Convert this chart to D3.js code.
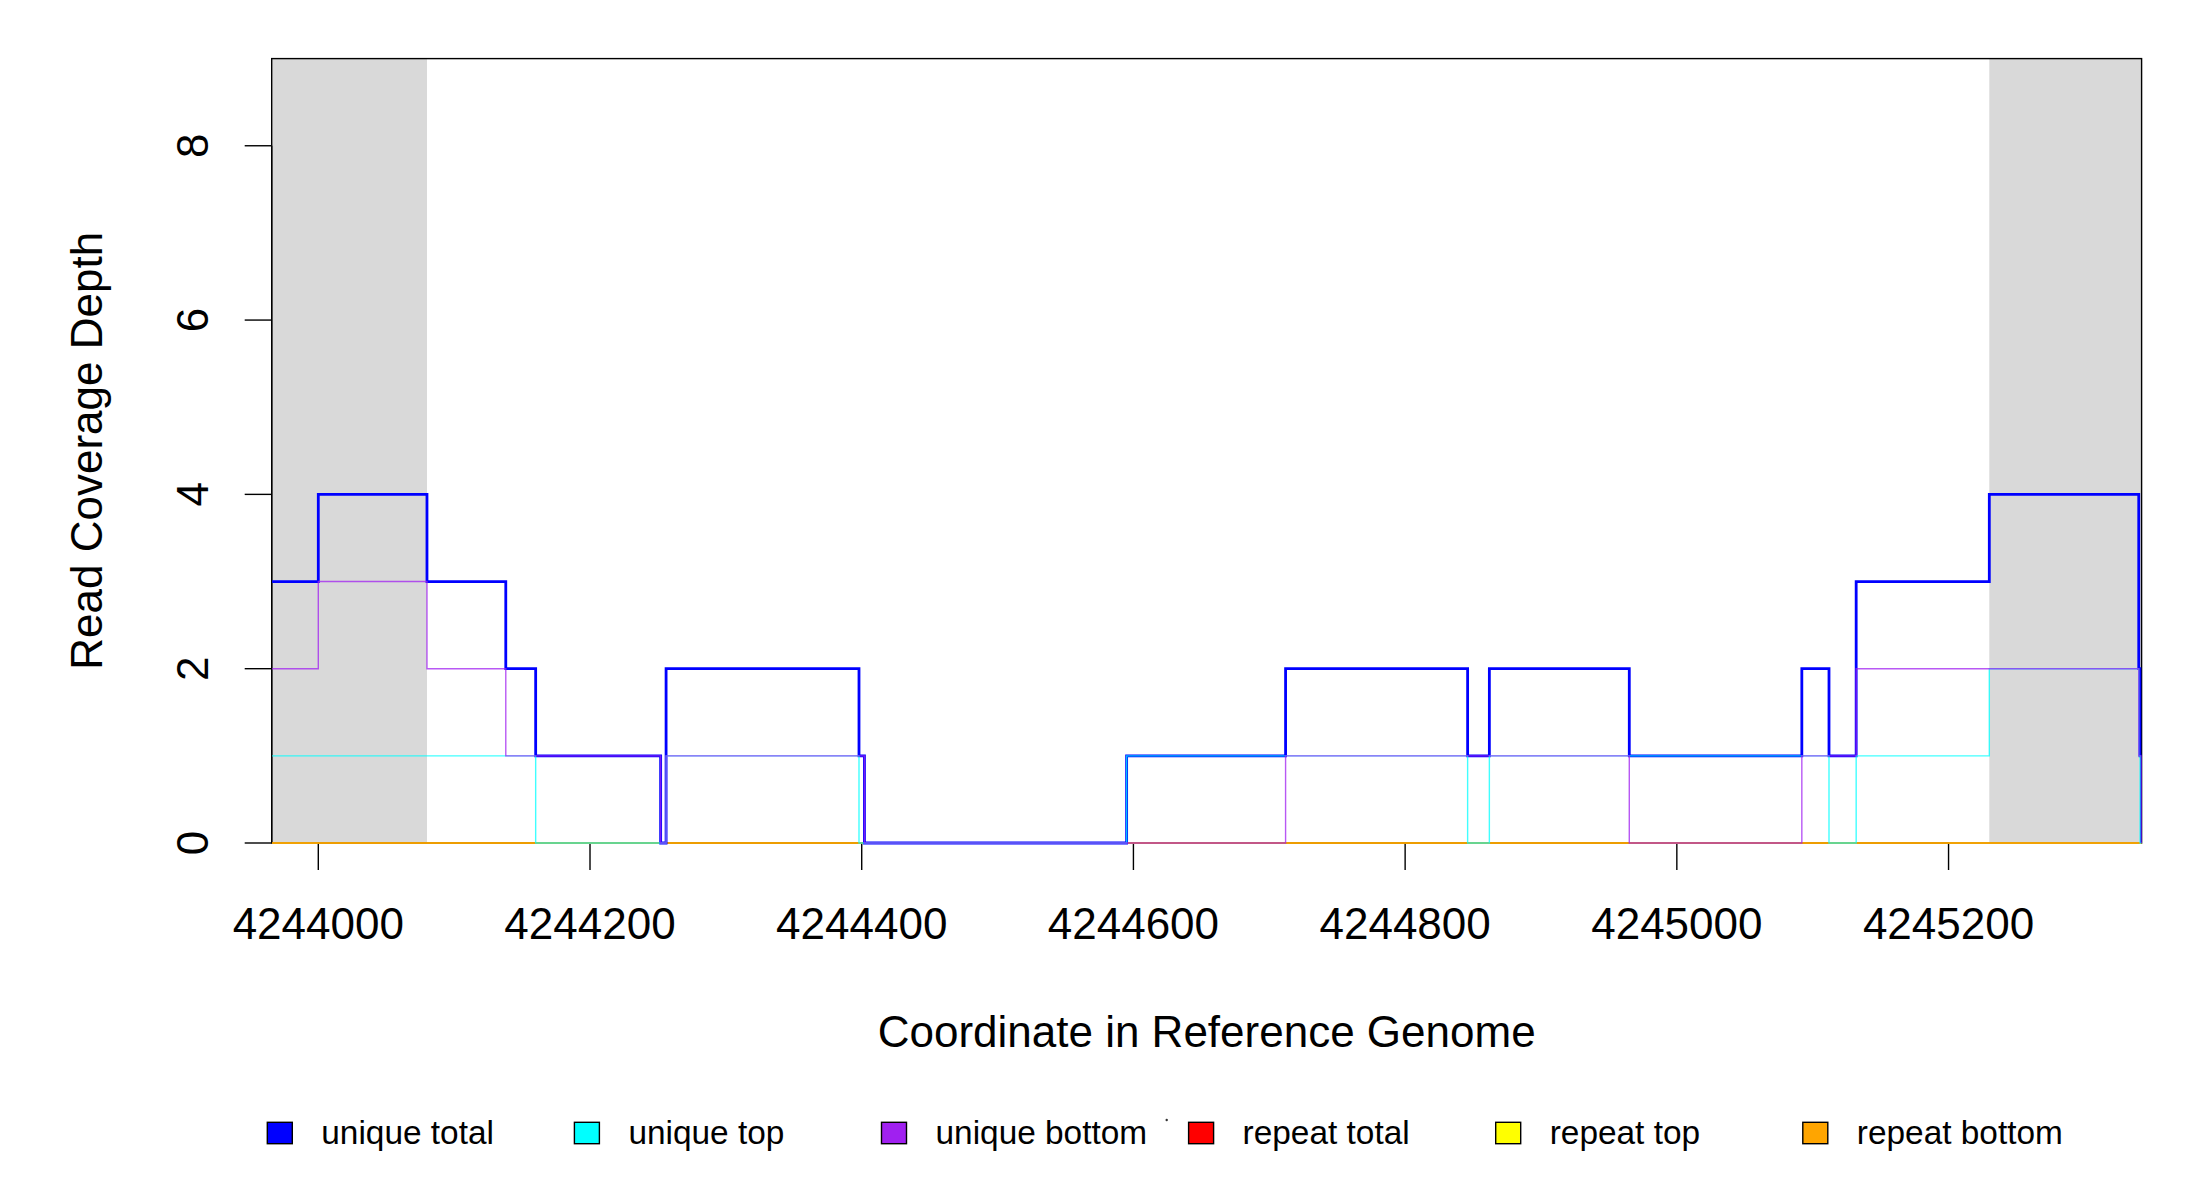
<!DOCTYPE html>
<html>
<head>
<meta charset="utf-8">
<script src="https://cdn.jsdelivr.net/npm/d3@7"></script>
<style>
  html, body { margin: 0; padding: 0; background: #fff; }
  text { font-family: "Liberation Sans", Arial, Helvetica, sans-serif; fill: #000; }
</style>
</head>
<body>
<div id="chart"></div>
<script>
// coverage steps: value holds from position[i] until position[i + 1]
const positions = [4243966, 4244000, 4244080, 4244138, 4244160, 4244252, 4244256, 4244398, 4244402, 4244595,
  4244712, 4244846, 4244862, 4244965, 4245092, 4245112, 4245132, 4245230, 4245340, 4245341, 4245342]
const uniqueTotal = [3, 4, 3, 2, 1, 0, 2, 1, 0, 1, 2, 1, 2, 1, 2, 1, 3, 4, 2, 1, 0]
const uniqueTop = [1, 1, 1, 1, 0, 0, 1, 0, 0, 1, 1, 0, 1, 1, 1, 0, 1, 2, 1, 0, 0]
const uniqueBottom = [2, 3, 2, 1, 1, 0, 1, 1, 0, 0, 1, 1, 1, 0, 1, 1, 2, 2, 1, 1, 0]
const repeatTotal = [0, 0, 0, 0, 0, 0, 0, 0, 0, 0, 0, 0, 0, 0, 0, 0, 0, 0, 0, 0, 0]
const repeatTop = [0, 0, 0, 0, 0, 0, 0, 0, 0, 0, 0, 0, 0, 0, 0, 0, 0, 0, 0, 0, 0]
const repeatBottom = [0, 0, 0, 0, 0, 0, 0, 0, 0, 0, 0, 0, 0, 0, 0, 0, 0, 0, 0, 0, 0]

// shaded flanks outside the region of interest
const flankStarts = [4243966, 4245230]
const flankEnds = [4244080, 4245342]

const xTicks = [4244000, 4244200, 4244400, 4244600, 4244800, 4245000, 4245200]
const yTicks = [0, 2, 4, 6, 8]
const legendLabels = ['unique total', 'unique top', 'unique bottom', 'repeat total', 'repeat top', 'repeat bottom']
const legendColors = ['#0000ff', '#00ffff', '#a020f0', '#ff0000', '#ffff00', '#ffa500']

const width = 2200
const height = 1200
const plot = {left: 271.7, right: 2141.6, top: 58.6, bottom: 843}
const FONT = 44
const LEGEND_FONT = 33.4

const x = d3.scaleLinear().domain([4243965.7, 4245342.1]).range([plot.left, plot.right])
const y = d3.scaleLinear().domain([0, 9]).range([plot.bottom, plot.top])

const svg = d3.select('#chart')
  .append('svg')
  .attr('width', width)
  .attr('height', height)

svg.append('rect').attr('width', width).attr('height', height).attr('fill', '#fff')

svg.append('clipPath').attr('id', 'plotClip')
  .append('rect')
  .attr('x', plot.left).attr('y', plot.top)
  .attr('width', plot.right - plot.left).attr('height', plot.bottom - plot.top + 2)

// gray flanks
svg.selectAll('rect.flank')
  .data(flankStarts)
  .enter()
  .append('rect')
  .classed('flank', true)
  .attr('x', (d, i) => x(d))
  .attr('width', (d, i) => x(flankEnds[i]) - x(d))
  .attr('y', plot.top)
  .attr('height', plot.bottom - plot.top)
  .attr('fill', '#d9d9d9')

// box
svg.append('rect')
  .attr('x', plot.left).attr('y', plot.top)
  .attr('width', plot.right - plot.left).attr('height', plot.bottom - plot.top)
  .attr('fill', 'none').attr('stroke', '#000').attr('stroke-width', 1.4)

// x axis
const xAxis = svg.append('g')
xAxis.append('line')
  .attr('x1', x(xTicks[0])).attr('x2', x(xTicks[xTicks.length - 1]))
  .attr('y1', plot.bottom).attr('y2', plot.bottom)
  .attr('stroke', '#000').attr('stroke-width', 1.4)
xAxis.selectAll('line.tick')
  .data(xTicks)
  .enter()
  .append('line')
  .classed('tick', true)
  .attr('x1', d => x(d)).attr('x2', d => x(d))
  .attr('y1', plot.bottom).attr('y2', plot.bottom + 27)
  .attr('stroke', '#000').attr('stroke-width', 1.4)
xAxis.selectAll('text')
  .data(xTicks)
  .enter()
  .append('text')
  .attr('x', d => x(d))
  .attr('y', 939)
  .attr('text-anchor', 'middle')
  .attr('font-size', FONT)
  .text(d => d)

// y axis
const yAxis = svg.append('g')
yAxis.append('line')
  .attr('x1', plot.left).attr('x2', plot.left)
  .attr('y1', y(yTicks[0])).attr('y2', y(yTicks[yTicks.length - 1]))
  .attr('stroke', '#000').attr('stroke-width', 1.4)
yAxis.selectAll('line.tick')
  .data(yTicks)
  .enter()
  .append('line')
  .classed('tick', true)
  .attr('x1', plot.left - 27).attr('x2', plot.left)
  .attr('y1', d => y(d)).attr('y2', d => y(d))
  .attr('stroke', '#000').attr('stroke-width', 1.4)
yAxis.selectAll('text')
  .data(yTicks)
  .enter()
  .append('text')
  .attr('transform', d => `translate(208.3, ${y(d)}) rotate(-90)`)
  .attr('text-anchor', 'middle')
  .attr('font-size', FONT)
  .text(d => d)

const line = d3.line()
  .x(d => x(d[0]))
  .y(d => y(d[1]))
  .curve(d3.curveStepAfter)

// drawing order: repeat series first, unique series on top, all over the box
const series = [
  {values: repeatTotal, color: legendColors[3], w: 1.6, op: 0.75},
  {values: repeatTop, color: legendColors[4], w: 1.6, op: 0.75},
  {values: repeatBottom, color: legendColors[5], w: 1.6, op: 0.8},
  {values: uniqueTotal, color: legendColors[0], w: 2.8, op: 1},
  {values: uniqueTop, color: legendColors[1], w: 1.4, op: 0.75},
  {values: uniqueBottom, color: legendColors[2], w: 1.4, op: 0.75}
]

const lines = svg.append('g').attr('clip-path', 'url(#plotClip)')
series.forEach(s => {
  lines.append('path')
    .attr('d', line(positions.map((p, i) => [p, s.values[i]])))
    .attr('fill', 'none')
    .attr('stroke', s.color)
    .attr('stroke-width', s.w)
    .attr('stroke-opacity', s.op)
    .attr('stroke-linejoin', 'miter')
})

// axis titles
svg.append('text')
  .attr('x', (plot.left + plot.right) / 2)
  .attr('y', 1047)
  .attr('text-anchor', 'middle')
  .attr('font-size', FONT)
  .text('Coordinate in Reference Genome')

svg.append('text')
  .attr('transform', `translate(101.7, ${(plot.top + plot.bottom) / 2}) rotate(-90)`)
  .attr('text-anchor', 'middle')
  .attr('font-size', FONT)
  .text('Read Coverage Depth')

// legend
svg.selectAll('g.legend')
  .data(legendLabels)
  .enter()
  .append('g')
  .classed('legend', true)
  .attr('transform', (d, i) => `translate(${267.3 + i * 307.1}, 0)`)
  .call(g => {
    g.append('rect')
      .attr('x', 0).attr('y', 1122.3)
      .attr('width', 25).attr('height', 21.4)
      .attr('fill', (d, i) => legendColors[i])
      .attr('stroke', '#000').attr('stroke-width', 1.4)

    g.append('text')
      .attr('x', 54).attr('y', 1144)
      .attr('font-size', LEGEND_FONT)
      .text(d => d)
  })

// stray dot seen in the original legend
svg.append('circle')
  .attr('cx', 1166.7).attr('cy', 1120)
  .attr('r', 1.2).attr('fill', '#333')
</script>
</body>
</html>
